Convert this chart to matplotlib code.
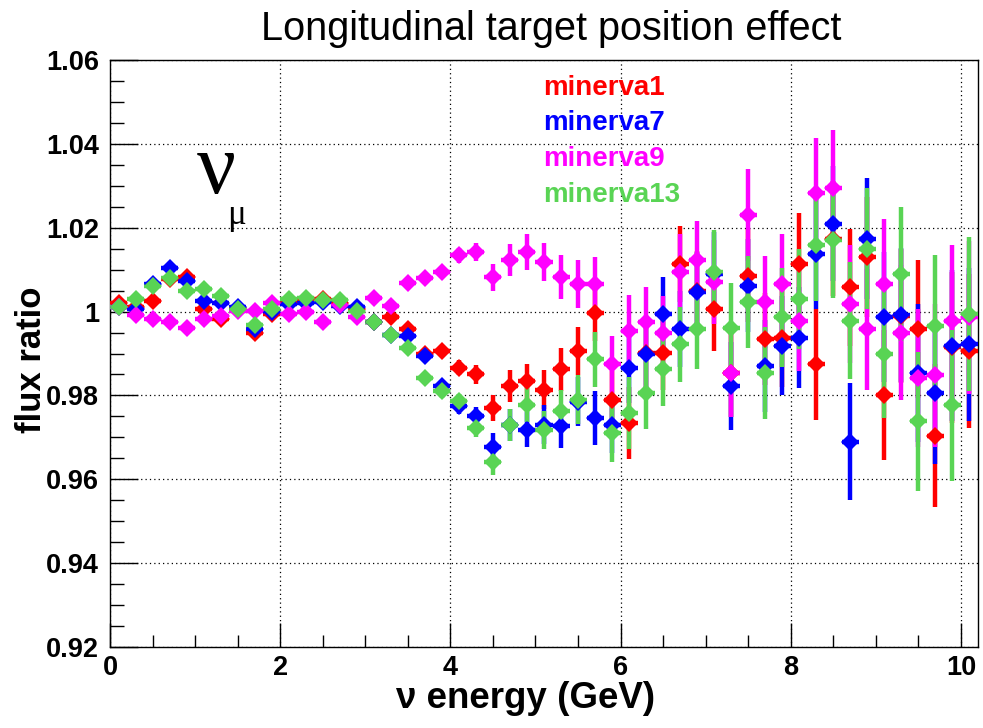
import numpy as np
import matplotlib
matplotlib.use("Agg")
import matplotlib.pyplot as plt
from matplotlib.ticker import MultipleLocator

# Neutrino energy bin centres (GeV), 0.2 GeV wide bins
energy = [0.1, 0.3, 0.5, 0.7, 0.9, 1.1, 1.3, 1.5, 1.7, 1.9,
          2.1, 2.3, 2.5, 2.7, 2.9, 3.1, 3.3, 3.5, 3.7, 3.9,
          4.1, 4.3, 4.5, 4.7, 4.9, 5.1, 5.3, 5.5, 5.7, 5.9,
          6.1, 6.3, 6.5, 6.7, 6.9, 7.1, 7.3, 7.5, 7.7, 7.9,
          8.1, 8.3, 8.5, 8.7, 8.9, 9.1, 9.3, 9.5, 9.7, 9.9, 10.1]

minerva1 = [1.0021, 1.0012, 1.0025, 1.0077, 1.0083, 1.0006, 0.9982, 1.0008, 0.9950, 0.9994,
            1.0020, 1.0030, 1.0030, 1.0020, 1.0005, 0.9975, 0.9988, 0.9958, 0.9898, 0.9906,
            0.9866, 0.9850, 0.9770, 0.9822, 0.9834, 0.9814, 0.9862, 0.9906, 0.9996, 0.9790,
            0.9734, 0.9902, 0.9902, 1.0114, 1.0050, 1.0006, 0.9854, 1.0086, 0.9934, 0.9938,
            1.0114, 0.9874, 1.0174, 1.0058, 1.0130, 0.9802, 0.9990, 0.9958, 0.9704, 0.9915, 0.9906]

minerva7 = [1.0010, 1.0006, 1.0065, 1.0105, 1.0073, 1.0025, 1.0021, 1.0012, 0.9958, 0.9998,
            1.0017, 1.0021, 1.0022, 1.0013, 1.0010, 0.9974, 0.9944, 0.9942, 0.9894, 0.9822,
            0.9774, 0.9750, 0.9678, 0.9730, 0.9718, 0.9730, 0.9726, 0.9785, 0.9746, 0.9730,
            0.9866, 0.9900, 0.9994, 0.9958, 1.0046, 1.0090, 0.9822, 1.0062, 0.9870, 0.9918,
            0.9938, 1.0138, 1.0210, 0.9690, 1.0174, 0.9986, 0.9992, 0.9854, 0.9806, 0.9918, 0.9922]

minerva9 = [1.0010, 0.9991, 0.9983, 0.9974, 0.9960, 0.9982, 0.9990, 1.0002, 1.0002, 1.0021,
            0.9994, 1.0000, 0.9976, 1.0016, 0.9986, 1.0033, 1.0013, 1.0069, 1.0081, 1.0094,
            1.0134, 1.0142, 1.0082, 1.0122, 1.0142, 1.0118, 1.0082, 1.0066, 1.0066, 0.9874,
            0.9954, 0.9974, 0.9950, 1.0094, 1.0122, 1.0070, 0.9854, 1.0230, 1.0022, 1.0066,
            0.9978, 1.0282, 1.0294, 1.0018, 0.9958, 1.0066, 0.9950, 0.9842, 0.9848, 0.9978, 0.9986]

minerva13 = [1.0012, 1.0031, 1.0060, 1.0081, 1.0049, 1.0053, 1.0037, 1.0006, 0.9967, 1.0006,
             1.0029, 1.0033, 1.0027, 1.0027, 1.0002, 0.9974, 0.9944, 0.9914, 0.9842, 0.9810,
             0.9786, 0.9722, 0.9642, 0.9730, 0.9778, 0.9718, 0.9762, 0.9790, 0.9886, 0.9710,
             0.9758, 0.9806, 0.9862, 0.9922, 0.9958, 1.0094, 0.9962, 1.0022, 0.9854, 0.9986,
             1.0030, 1.0158, 1.0170, 0.9978, 1.0150, 0.9900, 1.0090, 0.9738, 0.9966, 0.9776, 0.9994]

# Statistical uncertainty per energy bin (same MC statistics for every target position)
stat_err = [0.0004, 0.0004, 0.0004, 0.0004, 0.0004, 0.0004, 0.0004, 0.0004, 0.0004, 0.0004,
            0.0005, 0.0005, 0.0005, 0.0005, 0.0005, 0.0006, 0.0007, 0.0010, 0.0012, 0.0015,
            0.0018, 0.0022, 0.0032, 0.0038, 0.0042, 0.0046, 0.0052, 0.0058, 0.0065, 0.0068,
            0.0085, 0.0085, 0.0088, 0.0090, 0.0095, 0.0100, 0.0105, 0.0110, 0.0110, 0.0118,
            0.0120, 0.0132, 0.0138, 0.0140, 0.0144, 0.0155, 0.0160, 0.0165, 0.0170, 0.0180, 0.0183]

bin_half_width = 0.1

series = [
    ("minerva1", minerva1, "#ff0000"),
    ("minerva7", minerva7, "#0000ff"),
    ("minerva9", minerva9, "#ff00ff"),
    ("minerva13", minerva13, "#59d454"),
]

W, H = 983, 728
fig = plt.figure(figsize=(W / 100, H / 100), dpi=100)
ax = fig.add_axes([110 / W, 1 - 647 / H, (978 - 110) / W, (647 - 60) / H])

for name, vals, col in series:
    ax.errorbar(energy, vals, yerr=stat_err, xerr=bin_half_width,
                fmt="D", color=col, markersize=9.5, elinewidth=3.2,
                capsize=0, markeredgewidth=0, zorder=3)

ax.set_xlim(0, 10.2)
ax.set_ylim(0.92, 1.06)

ax.xaxis.set_major_locator(MultipleLocator(2))
ax.xaxis.set_minor_locator(MultipleLocator(0.5))
ax.yaxis.set_minor_locator(MultipleLocator(0.005))

ax.set_yticks([0.92, 0.94, 0.96, 0.98, 1.0, 1.02, 1.04, 1.06])
ax.set_yticklabels(["0.92", "0.94", "0.96", "0.98", "1", "1.02", "1.04", "1.06"])

ax.grid(True, which="major", color="black", linestyle=(0, (1, 2.5)), linewidth=0.9)
ax.set_axisbelow(True)

ax.tick_params(axis="both", which="both", direction="in", top=False, right=False,
               color="black", width=1.0)
ax.tick_params(axis="y", which="major", length=20, pad=8)
ax.tick_params(axis="y", which="minor", length=10)
ax.tick_params(axis="x", which="major", length=17, pad=6)
ax.tick_params(axis="x", which="minor", length=9)

for lab in ax.get_xticklabels() + ax.get_yticklabels():
    lab.set_fontfamily("Liberation Sans")
    lab.set_fontweight("bold")
    lab.set_fontsize(19.5)

for sp in ax.spines.values():
    sp.set_linewidth(1.0)
    sp.set_color("black")

ax.set_xlabel("\u03bd energy (GeV)", family="Liberation Sans", fontweight="bold",
              fontsize=26.5)
ax.xaxis.set_label_coords((526 - 110) / 868, -0.058)
ax.xaxis.label.set_va("top")
ax.set_ylabel("flux ratio", family="Liberation Sans", fontweight="bold", fontsize=25)
ax.yaxis.set_label_coords(-0.071, 0.489)

fig.text(551 / W, 1 - 29 / H, "Longitudinal target position effect",
         family="Liberation Sans", fontsize=28.5, ha="center", va="center")

# Series labels in their own colours
label_y = [88, 123, 159, 195]
for (name, _, col), yp in zip(series, label_y):
    fig.text(543 / W, 1 - yp / H, name, color=col, family="Liberation Sans",
             fontweight="bold", fontsize=20, ha="left", va="center")

# nu_mu annotation
fig.text(216 / W, 1 - 172 / H, "\u03bd", family="Liberation Serif", fontsize=62,
         ha="center", va="center")
fig.text(237 / W, 1 - 215 / H, "\u03bc", family="Liberation Serif", fontsize=25,
         ha="center", va="center")

fig.savefig("out.png", dpi=100)
